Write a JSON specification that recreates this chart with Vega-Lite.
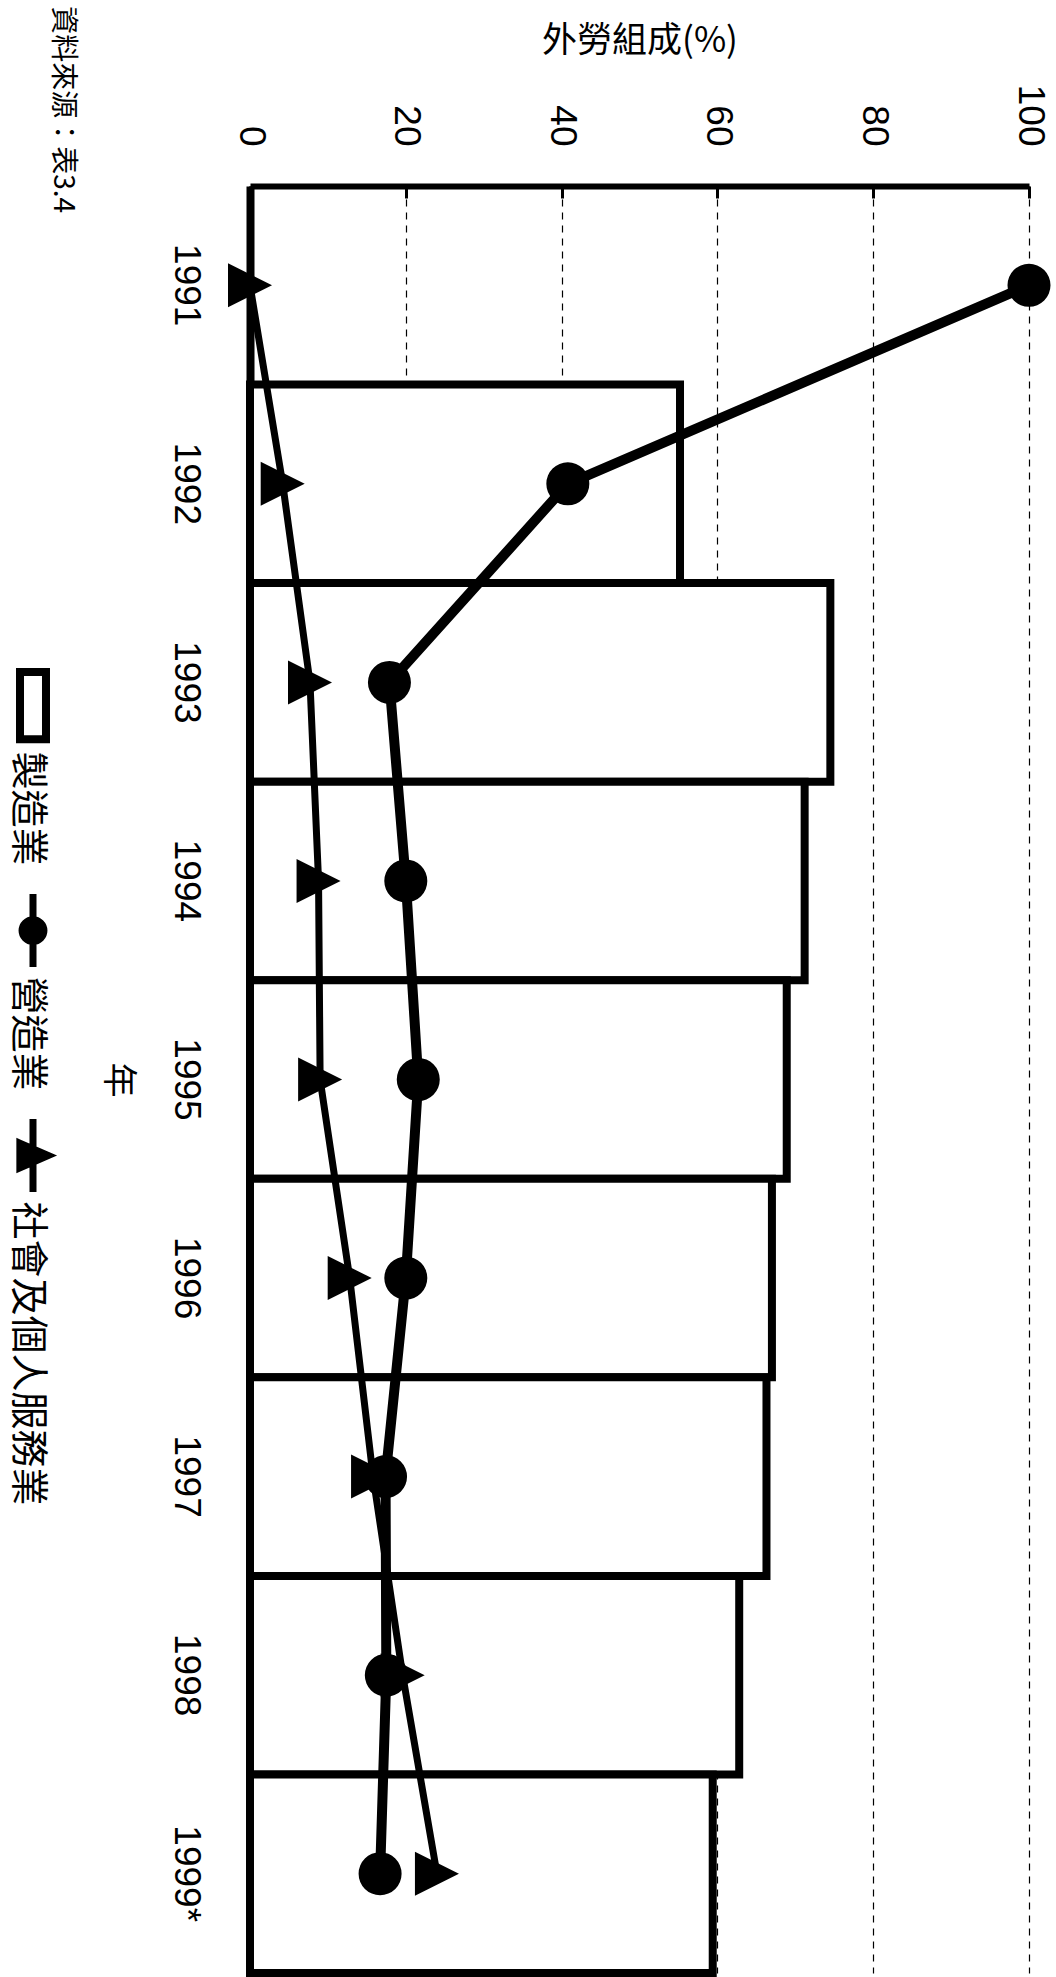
{
  "$schema": "https://vega.github.io/schema/vega-lite/v6.json",
  "width": 779,
  "height": 1787,
  "autosize": {"type": "none"},
  "padding": {"left": 250, "top": 186, "right": 27, "bottom": 4},
  "background": "white",
  "config": {"view": {"stroke": null}},
  "title": {
    "text": "資料來源：表3.4",
    "orient": "left",
    "anchor": "end",
    "frame": "group",
    "angle": 90,
    "align": "right",
    "baseline": "bottom",
    "dx": 27,
    "offset": -68,
    "fontSize": 28,
    "font": "Noto Sans CJK TC",
    "fontWeight": "normal",
    "color": "black"
  },
  "data": {
    "values": [
      {"year": "1991", "series": "社會及個人服務業", "value": 0},
      {"year": "1992", "series": "社會及個人服務業", "value": 4.2},
      {"year": "1993", "series": "社會及個人服務業", "value": 7.7},
      {"year": "1994", "series": "社會及個人服務業", "value": 8.8},
      {"year": "1995", "series": "社會及個人服務業", "value": 9.0},
      {"year": "1996", "series": "社會及個人服務業", "value": 12.8},
      {"year": "1997", "series": "社會及個人服務業", "value": 15.8},
      {"year": "1998", "series": "社會及個人服務業", "value": 19.6},
      {"year": "1999*", "series": "社會及個人服務業", "value": 24.0},
      {"year": "1991", "series": "營造業", "value": 100},
      {"year": "1992", "series": "營造業", "value": 40.8},
      {"year": "1993", "series": "營造業", "value": 17.9},
      {"year": "1994", "series": "營造業", "value": 20.0},
      {"year": "1995", "series": "營造業", "value": 21.6},
      {"year": "1996", "series": "營造業", "value": 20.0},
      {"year": "1997", "series": "營造業", "value": 17.4},
      {"year": "1998", "series": "營造業", "value": 17.5},
      {"year": "1999*", "series": "營造業", "value": 16.7},
      {"year": "1992", "series": "製造業", "value": 55.2},
      {"year": "1993", "series": "製造業", "value": 74.5},
      {"year": "1994", "series": "製造業", "value": 71.2},
      {"year": "1995", "series": "製造業", "value": 68.9},
      {"year": "1996", "series": "製造業", "value": 67.0},
      {"year": "1997", "series": "製造業", "value": 66.3},
      {"year": "1998", "series": "製造業", "value": 62.8},
      {"year": "1999*", "series": "製造業", "value": 59.4}
    ]
  },
  "encoding": {
    "y": {
      "field": "year",
      "type": "nominal",
      "sort": ["1991", "1992", "1993", "1994", "1995", "1996", "1997", "1998", "1999*"],
      "scale": {"paddingInner": 0, "paddingOuter": 0},
      "axis": {
        "orient": "left",
        "title": "年",
        "titleFont": "Noto Sans CJK TC",
        "titleFontSize": 35,
        "titleFontWeight": "normal",
        "titleColor": "black",
        "titleAngle": 90,
        "titleBaseline": "top",
        "titlePadding": 33,
        "labelAngle": 90,
        "labelAlign": "center",
        "labelBaseline": "top",
        "labelFont": "Liberation Sans",
        "labelFontSize": 37,
        "labelColor": "black",
        "labelPadding": 47,
        "ticks": false,
        "domain": true,
        "domainColor": "black",
        "domainWidth": 8,
        "grid": false
      }
    },
    "x": {
      "field": "value",
      "type": "quantitative",
      "scale": {"domain": [0, 100], "nice": false},
      "axis": {
        "orient": "top",
        "values": [0, 20, 40, 60, 80, 100],
        "title": "外勞組成(%)",
        "titleFont": "Noto Sans CJK TC",
        "titleFontSize": 35,
        "titleFontWeight": "normal",
        "titleColor": "black",
        "titleAngle": 0,
        "titlePadding": 26,
        "labelAngle": 90,
        "labelAlign": "right",
        "labelBaseline": "middle",
        "labelFont": "Liberation Sans",
        "labelFontSize": 37,
        "labelColor": "black",
        "labelPadding": 52,
        "labelFlush": false,
        "labelOverlap": false,
        "domain": true,
        "domainColor": "black",
        "domainWidth": 6,
        "ticks": true,
        "tickSize": -12,
        "tickWidth": 3,
        "tickColor": "black",
        "grid": true,
        "gridColor": "black",
        "gridWidth": 1.2,
        "gridDash": [7, 6],
        "gridOpacity": 1
      }
    }
  },
  "layer": [
    {
      "transform": [{"filter": "datum.series === '製造業'"}],
      "mark": {"type": "bar", "stroke": "black", "strokeWidth": 8, "opacity": 1},
      "encoding": {
        "color": {
          "field": "series",
          "type": "nominal",
          "scale": {
            "domain": ["製造業", "營造業", "社會及個人服務業"],
            "range": ["white", "black", "black"]
          },
          "legend": {
            "title": null,
            "orient": "none",
            "legendX": -242,
            "legendY": 482,
            "direction": "vertical",
            "rowPadding": 14,
            "padding": 0,
            "labelFont": "Noto Sans CJK TC",
            "labelFontSize": 38,
            "labelColor": "black",
            "labelLimit": 1000,
            "symbolSize": 5329,
            "encoding": {
              "symbols": {
                "shape": {"value": {"expr": "datum.value === '製造業' ? 'M-0.356,-0.92L0.356,-0.92L0.356,0.92L-0.356,0.92Z' : datum.value === '營造業' ? 'M0,-1L0,1M0.3,0A0.3,0.3,0,1,1,-0.3,0A0.3,0.3,0,1,1,0.3,0Z' : 'M0,-1L0,1M-0.36,-0.34L0.42,0L-0.36,0.34Z'"}},
                "stroke": {"value": "black"},
                "strokeWidth": {"value": {"expr": "datum.value === '製造業' ? 8 : 7"}},
                "size": {"value": 5329},
                "opacity": {"value": 1},
                "x": {"value": 25},
                "y": {"value": 37.6}
              },
              "labels": {
                "angle": {"value": 90},
                "x": {"value": 19},
                "y": {"value": 83.6},
                "align": {"value": "left"},
                "baseline": {"value": "middle"}
              }
            }
          }
        }
      }
    },
    {
      "transform": [{"filter": "datum.series === '社會及個人服務業'"}],
      "mark": {"type": "line", "color": "black", "strokeWidth": 7, "strokeJoin": "round"},
      "encoding": {"order": {"field": "year", "type": "ordinal"}}
    },
    {
      "transform": [{"filter": "datum.series === '營造業'"}],
      "mark": {"type": "line", "color": "black", "strokeWidth": 10, "strokeJoin": "round"},
      "encoding": {"order": {"field": "year", "type": "ordinal"}}
    },
    {
      "transform": [{"filter": "datum.series === '社會及個人服務業'"}],
      "mark": {"type": "point", "shape": "M-1,-1L1,0L-1,1Z", "filled": true, "color": "black", "opacity": 1, "size": 1936, "strokeWidth": 0}
    },
    {
      "transform": [{"filter": "datum.series === '營造業'"}],
      "mark": {"type": "point", "shape": "circle", "filled": true, "color": "black", "opacity": 1, "size": 1850, "strokeWidth": 0}
    }
  ]
}
